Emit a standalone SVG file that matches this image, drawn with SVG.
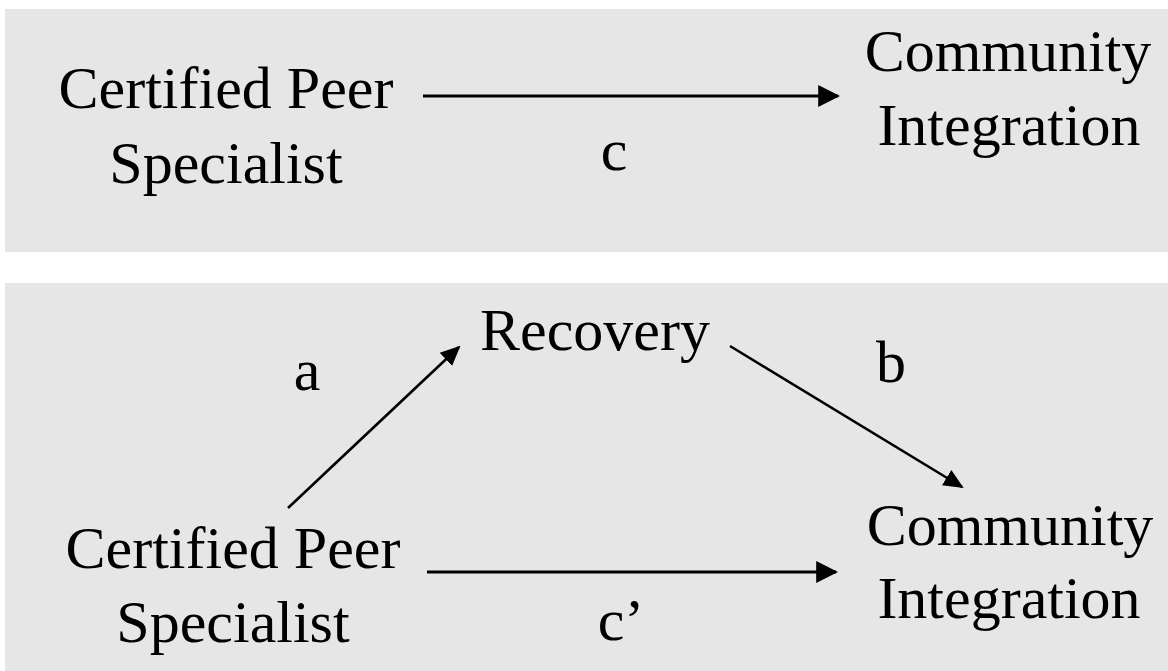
<svg xmlns="http://www.w3.org/2000/svg" width="1168" height="671" viewBox="0 0 1168 671">
<style>
.panel{fill:#e6e6e6}
text{font-family:"Liberation Serif","Times New Roman",serif;font-size:60px;fill:#000;text-anchor:middle}
.lbl{font-size:48px}
.edge{stroke:#000;stroke-width:3;fill:none}
.diag{stroke-width:2.6}
</style>
<defs>
<marker id="ah" markerUnits="userSpaceOnUse" markerWidth="22" markerHeight="22" viewBox="0 0 20 20" refX="18" refY="10" orient="auto">
<path d="M0,0 L20,10 L0,20 Z" fill="#000"/>
</marker>
<marker id="ah2" markerUnits="userSpaceOnUse" markerWidth="20" markerHeight="20" viewBox="0 0 20 20" refX="18" refY="10" orient="auto">
<path d="M0,1 L20,10 L0,19 Z" fill="#000"/>
</marker>
</defs>
<rect width="1168" height="671" fill="#fff"/>
<rect class="panel" x="5" y="9" width="1163" height="243"/>
<rect class="panel" x="5" y="283" width="1163" height="388"/>
<g id="connectors">
<line class="edge" x1="423" y1="96" x2="838" y2="96" marker-end="url(#ah)"/>
<line class="edge diag" x1="288" y1="508" x2="459" y2="347" marker-end="url(#ah2)"/>
<line class="edge diag" x1="730" y1="346" x2="962" y2="487" marker-end="url(#ah2)"/>
<line class="edge" x1="427" y1="572" x2="836" y2="572" marker-end="url(#ah)"/>
</g>
<g id="cps1"><text x="226" y="108">Certified Peer</text><text x="226" y="183">Specialist</text></g>
<g id="ci1"><text x="1008" y="71">Community</text><text x="1009" y="145">Integration</text></g>
<g id="lbl-c"><text x="614" y="170">c</text></g>
<g id="recovery"><text x="595" y="350">Recovery</text></g>
<g id="lbl-a"><text x="307" y="390">a</text></g>
<g id="lbl-b"><text x="891" y="382">b</text></g>
<g id="cps2"><text x="233" y="568">Certified Peer</text><text x="233" y="642">Specialist</text></g>
<g id="ci2"><text x="1010" y="545">Community</text><text x="1009" y="618">Integration</text></g>
<g id="lbl-c2"><text x="621" y="640">c’</text></g>
</svg>
